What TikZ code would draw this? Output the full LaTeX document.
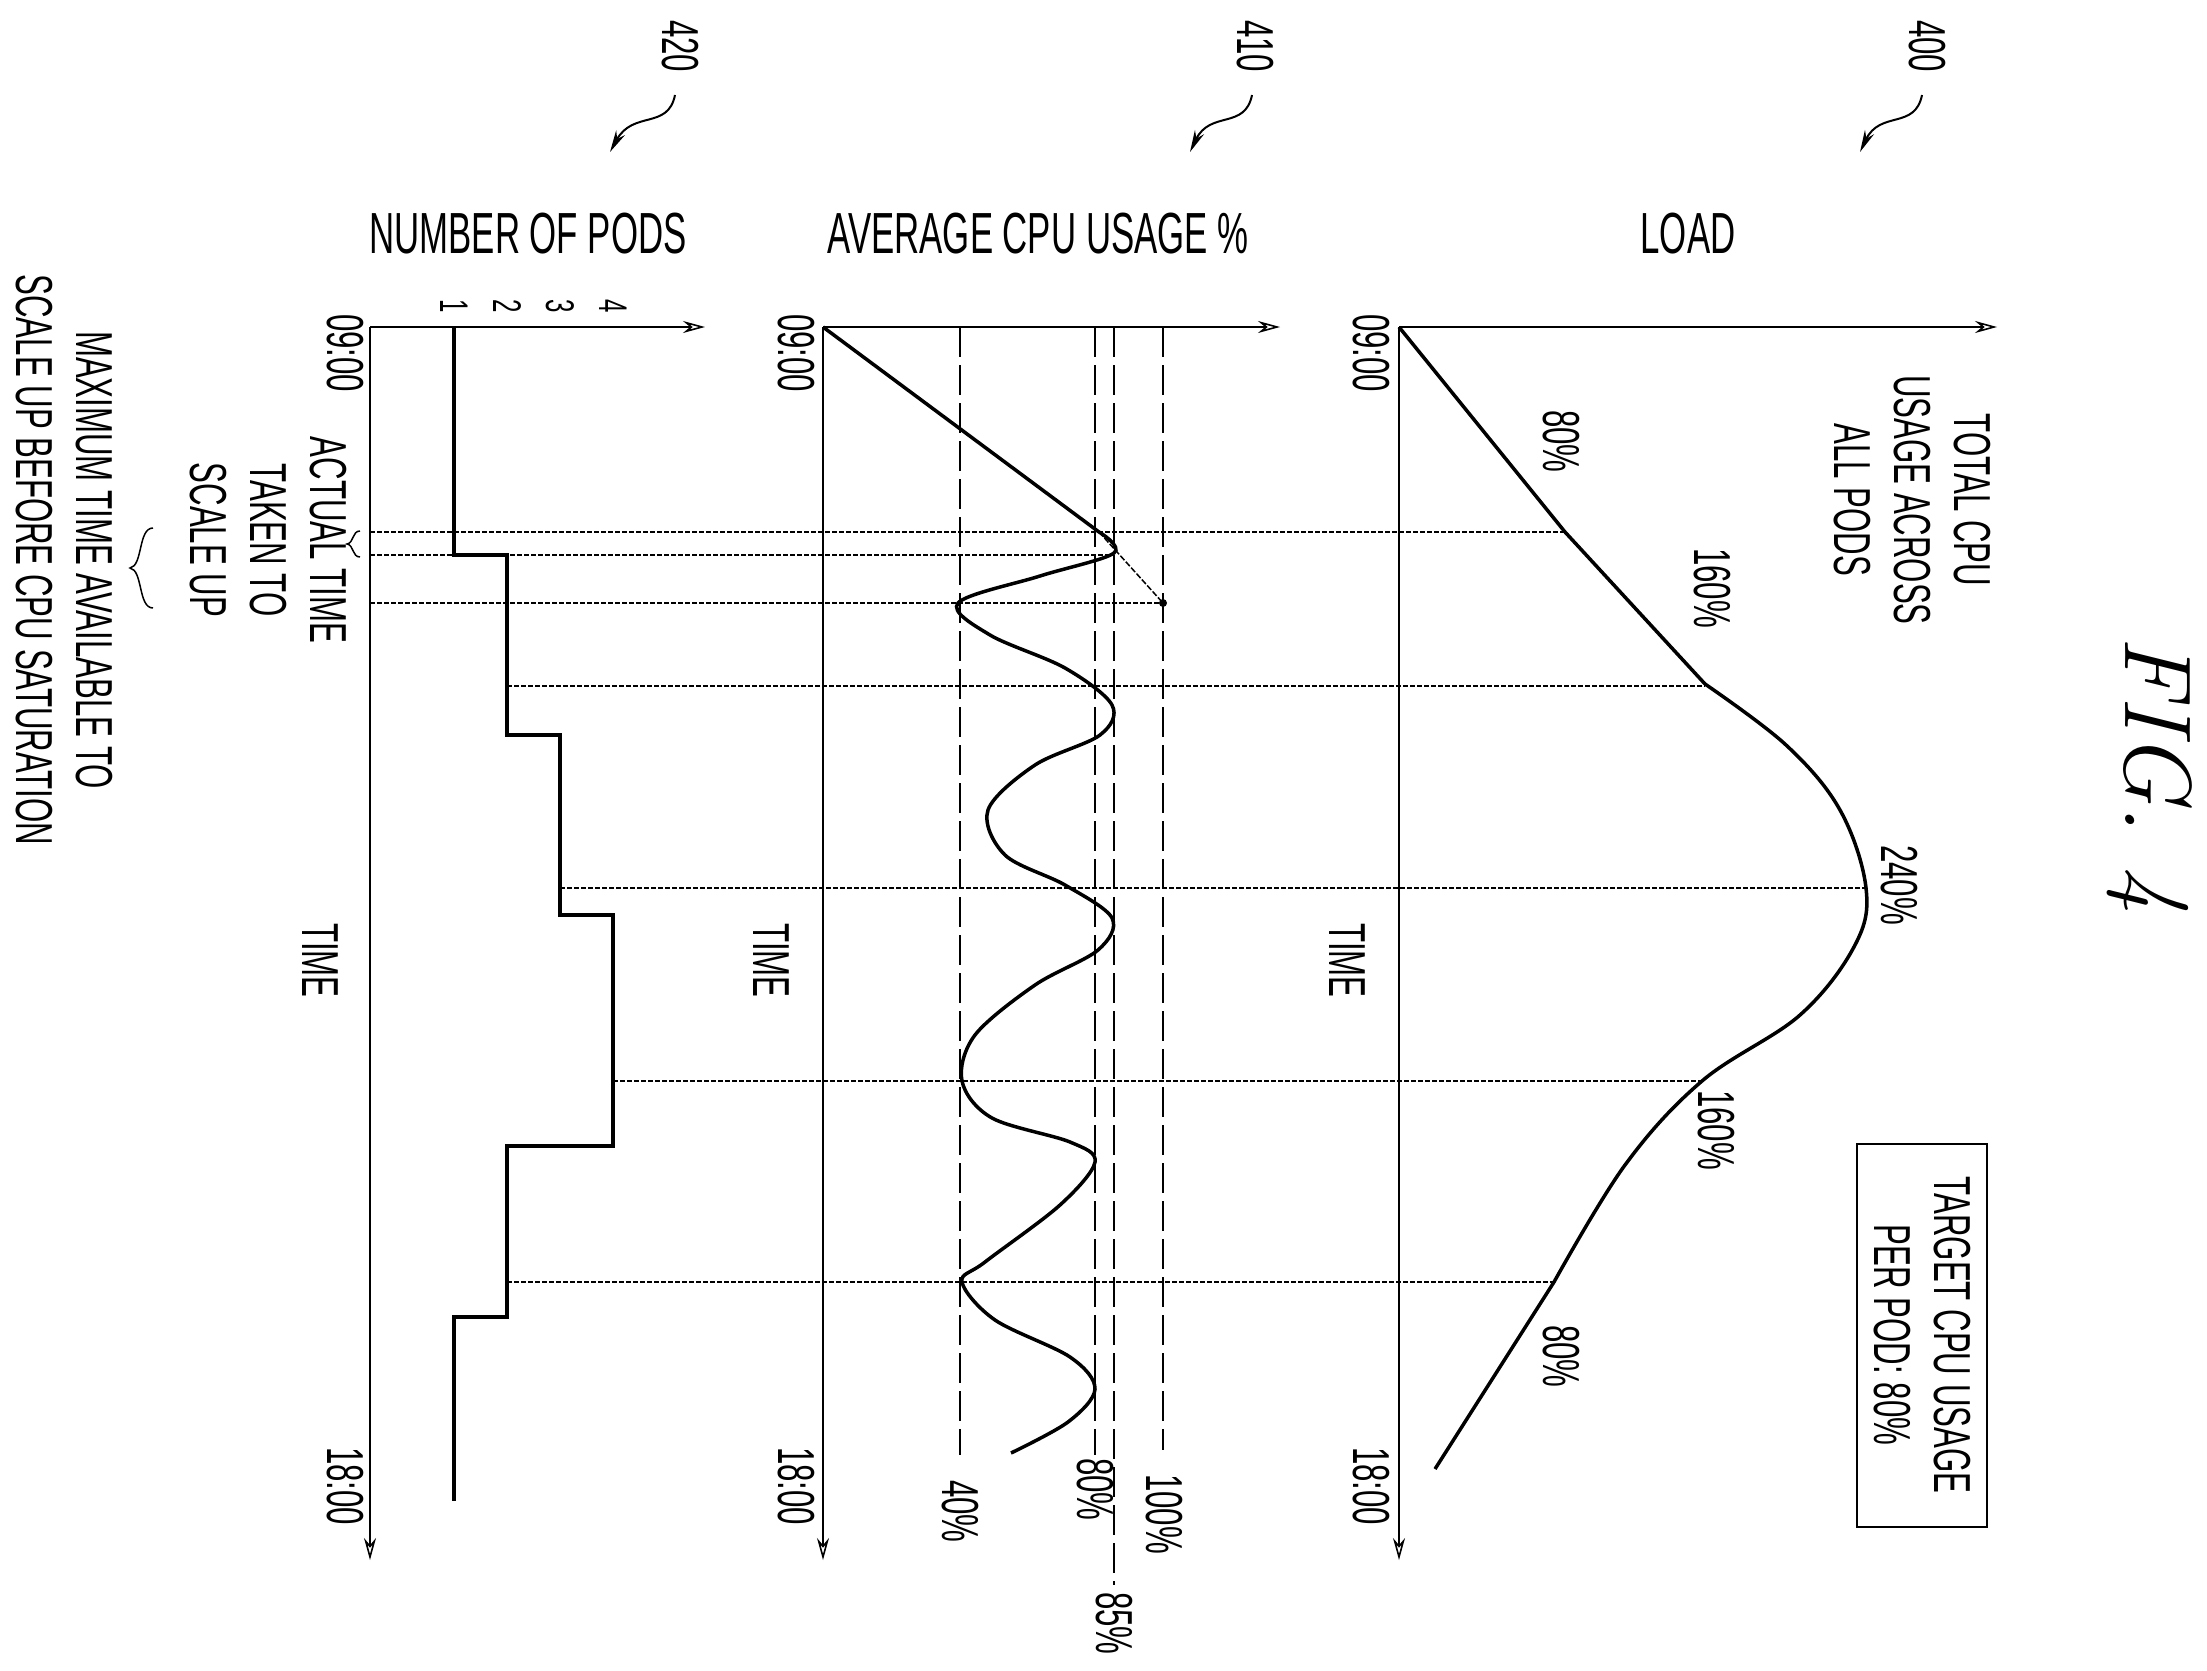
\documentclass[tikz,border=0pt]{standalone}
\usepackage{fontspec}
\newfontfamily\pf[FakeStretch=0.6]{Liberation Sans}
\usetikzlibrary{arrows.meta}
\begin{document}
\begin{tikzpicture}[x=1pt,y=-1pt,
  txt/.style={font=\pf\fontsize{52}{60}\selectfont, inner sep=0pt},
  rot/.style={txt, rotate=-90, anchor=west},
  rotc/.style={txt, rotate=-90, anchor=center, align=center},
  axis/.style={line width=1.6pt, -{Stealth[length=22pt,width=12pt,open]}},
  grid/.style={line width=1.5pt, dash pattern=on 5pt off 2pt},
  ref/.style={line width=1.5pt, dash pattern=on 30pt off 8pt},
  curve/.style={line width=3.5pt},
  podstep/.style={line width=4pt},
  sq/.style={line width=2pt, -{Stealth[length=22pt,width=10pt]}}]
\useasboundingbox (0,0) rectangle (2207,1670);
% axes origins
\coordinate (p0) at (370,327); \coordinate (pE) at (370,1560); \coordinate (pX) at (705,327);
\coordinate (c0) at (823,327); \coordinate (cE) at (823,1560); \coordinate (cX) at (1280,327);
\coordinate (l0) at (1399,327); \coordinate (lE) at (1399,1560); \coordinate (lX) at (1997,327);
% gridlines
\foreach \ya/\xa/\xb in {532/370/1565, 555/370/1114, 603/370/1165, 686/507/1705, 888/560/1866, 1081/613/1702, 1282/507/1554}
  \draw[grid] (\xa,\ya) -- (\xb,\ya);
% reference lines in CPU chart
\draw[ref] (960,327) -- (960,1455);
\draw[ref] (1095,327) -- (1095,1455);
\draw[ref] (1114,327) -- (1114,1585);
\draw[ref] (1163,327) -- (1163,1450);
% axes
\draw[axis] (p0) -- (pE); \draw[axis] (p0) -- (pX);
\draw[axis] (c0) -- (cE); \draw[axis] (c0) -- (cX);
\draw[axis] (l0) -- (lE); \draw[axis] (l0) -- (lX);
% load curve
\draw[curve] (l0) -- (1565,532) -- (1705,684)
  plot[smooth, tension=0.6] coordinates {(1705,684) (1786,745) (1840,810) (1866,888) (1855,945) (1800,1015) (1702,1081) (1625,1165) (1554,1282)}
  -- (1435,1469);
% CPU curve
\draw[curve] (c0) -- (1099,532);
\draw[curve] plot[smooth, tension=0.55] coordinates {(1099,532) (1114,553) (1040,576) (958,603) (990,635) (1065,668) (1112,705) (1100,735) (1035,765) (988,810) (1005,855) (1065,885) (1112,918) (1098,950) (1035,985) (975,1035) (962,1081) (992,1118) (1070,1142) (1095,1162) (1060,1205) (985,1262) (962,1282) (995,1320) (1070,1357) (1095,1389) (1068,1422) (1011,1453)};
\draw[line width=1.5pt, dash pattern=on 6pt off 2pt] (1099,532) -- (1163,603);
\fill (1163,603) circle (4pt);
% pods step
\draw[podstep] (454,327) -- (454,555) -- (507,555) -- (507,735) -- (560,735) -- (560,915) -- (613,915) -- (613,1146) -- (507,1146) -- (507,1317) -- (454,1317) -- (454,1501);
% tick labels
\foreach \x/\t in {454/1,507/2,560/3,613/4} \node[rotc, font=\pf\fontsize{40}{40}\selectfont] at (\x,306) {\t};
% titles
\node[txt, font=\pf\fontsize{58}{60}\selectfont] (tp) at (528,234) {NUMBER OF PODS};
\node[txt, font=\pf\fontsize{58}{60}\selectfont] (tc) at (1038,234) {AVERAGE CPU USAGE \%};
\node[txt, font=\pf\fontsize{58}{60}\selectfont] (tl) at (1688,234) {LOAD};
% time labels
\foreach \x in {345,796,1371} {
  \node[rot] at (\x,314) {09:00};
  \node[rot] at (\x,1447) {18:00};
}
\node[rot] at (320,923) {TIME};
\node[rot] at (771,923) {TIME};
\node[rot] at (1347,923) {TIME};
% CPU percentage labels
\node[rot] at (960,1480) {40\%};
\node[rot] at (1095,1458) {80\%};
\node[rot] at (1114,1592) {85\%};
\node[rot] at (1164,1474) {100\%};
% load labels
\node[rot] at (1561,410) {80\%};
\node[rot] at (1712,548) {160\%};
\node[rot] at (1899,845) {240\%};
\node[rot] at (1716,1090) {160\%};
\node[rot] at (1561,1325) {80\%};
\node[rotc] (tot) at (1912,500) {TOTAL CPU\\USAGE ACROSS\\ALL PODS};
% target box
\node[rotc, draw, line width=2pt, minimum width=383pt, minimum height=130pt] (tb) at (1922,1335) {TARGET CPU USAGE\\PER POD: 80\%};
% left notes
\node[rotc] (act) at (268,540) {ACTUAL TIME\\TAKEN TO\\SCALE UP};
\node[rotc] (max) at (64,560) {MAXIMUM TIME AVAILABLE TO\\SCALE UP BEFORE CPU SATURATION};
\draw[line width=1.5pt] (360,531) .. controls (352,531) and (354,543) .. (347,544) .. controls (354,545) and (352,557) .. (360,557);
\draw[line width=1.5pt] (153,528) .. controls (138,528) and (143,566) .. (130,568) .. controls (143,570) and (138,608) .. (153,608);
% figure label
\node[rotc, font=\fontsize{95}{95}\selectfont\itshape] (fig) at (2150,775) {FIG.\ 4};
% reference numerals
\node[rot] (r400) at (1927,20) {400};
\node[rot] (r410) at (1255,20) {410};
\node[rot] (r420) at (680,20) {420};
\draw[sq] (1922,95) .. controls (1915,130) and (1880,110) .. (1860,152);
\draw[sq] (1252,95) .. controls (1245,130) and (1210,110) .. (1190,152);
\draw[sq] (675,95) .. controls (668,130) and (633,110) .. (610,152);
\end{tikzpicture}
\end{document}
